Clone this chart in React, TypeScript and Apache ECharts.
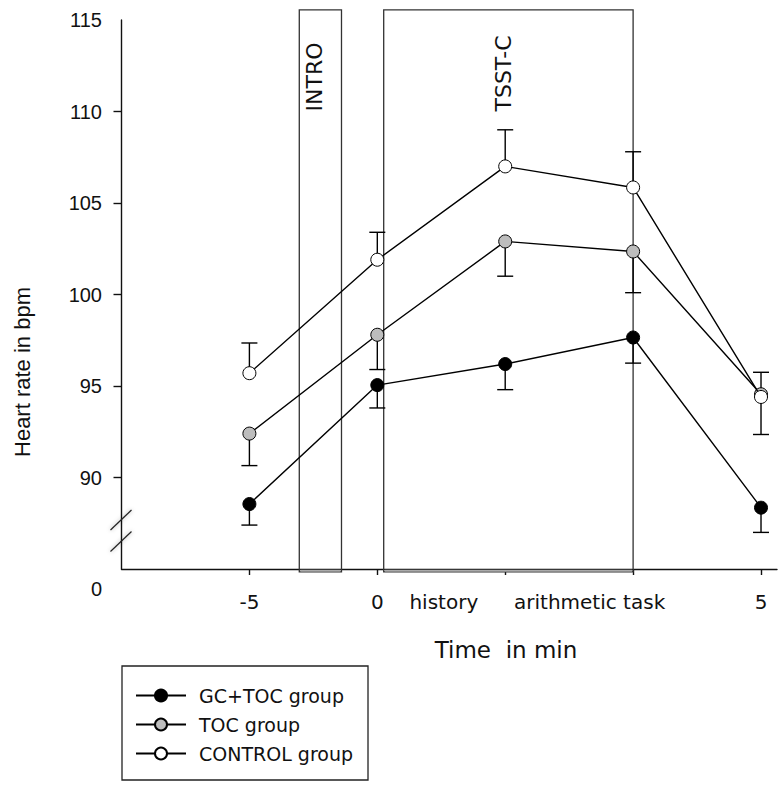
import React, { useEffect, useRef } from "react";
import * as echarts from "echarts";

// ---- data ----
const phasePos = [0, 1, 2, 3, 4];
const gcTocHR = [88.55, 95.05, 96.2, 97.65, 88.35];
const gcTocErr = [1.15, 1.25, 1.4, 1.4, 1.35];
const tocHR = [92.4, 97.8, 102.9, 102.35, 94.55];
const tocErr = [1.75, 1.9, 1.9, 2.25, 2.2];
const controlHR = [95.7, 101.9, 107.0, 105.85, 94.4];
const controlErr = [1.65, 1.5, 2.0, 1.95, 1.35];

const xLabelPos = [0, 1, 1.52, 2.66, 4];
const xLabelText = ["-5", "0", "history", "arithmetic task", "5"];
const yTickValues = [90, 95, 100, 105, 110];

const boxNames = ["INTRO", "TSST-C"];
const boxStart = [0.39, 1.05];
const boxEnd = [0.72, 3.0];
const boxLabelPos = [0.506, 1.984];
const boxBottom = 84.85;
const boxTop = 115.55;
const boxLabelStart = 110.0;

const breakMarks = [87.68, 86.5];

const groupNames = ["GC+TOC group", "TOC group", "CONTROL group"];
const groupFill = ["#000000", "#bdbdbd", "#ffffff"];

const SANS = '"DejaVu Sans", Verdana, sans-serif';
const ARIAL = '"Liberation Sans", Arial, sans-serif';

function errorSeries(name: string, hr: number[], err: number[], dir: number) {
  return {
    type: "custom",
    name: name + " err",
    z: 3,
    clip: false,
    encode: { x: 0, y: 1 },
    data: phasePos.map((x, i) => [x, hr[i], err[i] * dir]),
    renderItem: (params: any, api: any) => {
      const x = api.value(0);
      const v = api.value(1);
      const e = api.value(2);
      const p0 = api.coord([x, v]);
      const p1 = api.coord([x, v + e]);
      const st = { stroke: "#000", lineWidth: 1.4 };
      return {
        type: "group",
        children: [
          { type: "line", shape: { x1: p0[0], y1: p0[1], x2: p1[0], y2: p1[1] }, style: st },
          { type: "line", shape: { x1: p1[0] - 8, y1: p1[1], x2: p1[0] + 8, y2: p1[1] }, style: st },
        ],
      };
    },
  };
}

function lineSeries(idx: number, hr: number[]) {
  return {
    type: "line",
    name: groupNames[idx],
    z: 5 + idx,
    data: phasePos.map((x, i) => [x, hr[i]]),
    symbol: "circle",
    symbolSize: 13,
    showSymbol: true,
    itemStyle: { color: groupFill[idx], borderColor: "#000", borderWidth: 1 },
    lineStyle: { color: "#000", width: 1.4 },
  };
}

export default function App() {
  const ref = useRef<HTMLDivElement>(null);
  useEffect(() => {
    if (!ref.current) return;
    const chart = echarts.init(ref.current, undefined, { renderer: "svg" });
    const option: any = {
      animation: false,
      backgroundColor: "#ffffff",
      grid: { left: 121.5, right: 7, top: 20, bottom: 224, containLabel: false, outerBoundsMode: "none" },
      xAxis: {
        type: "value",
        min: -1,
        max: 4.125,
        splitLine: { show: false },
        axisLine: { show: true, onZero: false, lineStyle: { color: "#111", width: 1.4 } },
        axisTick: { show: true, length: 6, customValues: phasePos, lineStyle: { color: "#111", width: 1.4 } },
        axisLabel: {
          customValues: xLabelPos,
          margin: 23,
          fontFamily: SANS,
          fontSize: 20,
          color: "#111",
          formatter: (v: number) => {
            const i = xLabelPos.findIndex((p) => Math.abs(p - v) < 1e-6);
            return i >= 0 ? xLabelText[i] : "";
          },
        },
      },
      yAxis: {
        type: "value",
        min: 85,
        max: 115,
        interval: 5,
        splitLine: { show: false },
        axisLine: { show: true, onZero: false, lineStyle: { color: "#111", width: 1.4 } },
        axisTick: { show: true, length: 8, customValues: yTickValues, lineStyle: { color: "#111", width: 1.4 } },
        axisLabel: {
          margin: 19.5,
          fontFamily: ARIAL,
          fontSize: 20,
          color: "#111",
          formatter: (v: number) => (v === 85 ? "{z|0}" : String(v)),
          rich: { z: { fontFamily: ARIAL, fontSize: 20, color: "#111", padding: [40, 0, 0, 0] } },
        },
      },
      legend: {
        orient: "vertical",
        left: 122,
        top: 666,
        data: groupNames,
        borderColor: "#222",
        borderWidth: 1.3,
        padding: [20, 15, 17, 13],
        itemWidth: 50,
        itemHeight: 15,
        itemGap: 10,
        textStyle: { fontFamily: SANS, fontSize: 19, color: "#111", padding: [0, 0, 0, 8] },
      },
      graphic: [
        {
          type: "text",
          x: 506,
          y: 650,
          style: { text: "Time  in min", font: '23px "DejaVu Sans"', align: "center", verticalAlign: "middle", fill: "#111" },
        },
        {
          type: "text",
          x: 22,
          y: 372,
          rotation: Math.PI / 2,
          style: { text: "Heart rate in bpm", font: '22px "Liberation Sans"', align: "center", verticalAlign: "middle", fill: "#111" },
        },
      ],
      series: [
        {
          type: "custom",
          name: "phases",
          z: 1,
          clip: false,
          data: boxNames.map((_, i) => [boxStart[i], boxEnd[i], boxBottom, boxTop, boxLabelPos[i]]),
          renderItem: (params: any, api: any) => {
            const i = params.dataIndex;
            const a = api.coord([api.value(0), api.value(3)]);
            const b = api.coord([api.value(1), api.value(2)]);
            const t = api.coord([api.value(4), boxLabelStart]);
            return {
              type: "group",
              children: [
                {
                  type: "rect",
                  shape: { x: a[0], y: a[1], width: b[0] - a[0], height: b[1] - a[1] },
                  style: { fill: "none", stroke: "#333", lineWidth: 1.3 },
                },
                {
                  type: "line",
                  shape: { x1: a[0] + 1, y1: b[1] - 1, x2: b[0] - 1, y2: b[1] - 1 },
                  style: { stroke: "#aaa", lineWidth: 2 },
                },
                {
                  type: "text",
                  x: t[0],
                  y: t[1],
                  rotation: Math.PI / 2,
                  style: { text: boxNames[i], font: '22px "DejaVu Sans"', align: "left", verticalAlign: "middle", fill: "#111" },
                },
              ],
            };
          },
        },
        {
          type: "custom",
          name: "break",
          z: 2,
          clip: false,
          data: breakMarks.map((y) => [-1, y]),
          renderItem: (params: any, api: any) => {
            const p = api.coord([api.value(0), api.value(1)]);
            return {
              type: "line",
              shape: { x1: p[0] - 11, y1: p[1] + 10, x2: p[0] + 10, y2: p[1] - 10 },
              style: { stroke: "#222", lineWidth: 1.2, shadowBlur: 4, shadowColor: "rgba(0,0,0,0.35)" },
            };
          },
        },
        errorSeries("GC+TOC", gcTocHR, gcTocErr, -1),
        errorSeries("TOC", tocHR, tocErr, -1),
        errorSeries("CONTROL", controlHR, controlErr, 1),
        lineSeries(0, gcTocHR),
        lineSeries(1, tocHR),
        lineSeries(2, controlHR),
      ],
    };
    chart.setOption(option);
    return () => chart.dispose();
  }, []);
  return (
    <div
      ref={ref}
      style={{ position: "fixed", left: 0, top: 0, width: 784, height: 793, background: "#fff" }}
    />
  );
}
